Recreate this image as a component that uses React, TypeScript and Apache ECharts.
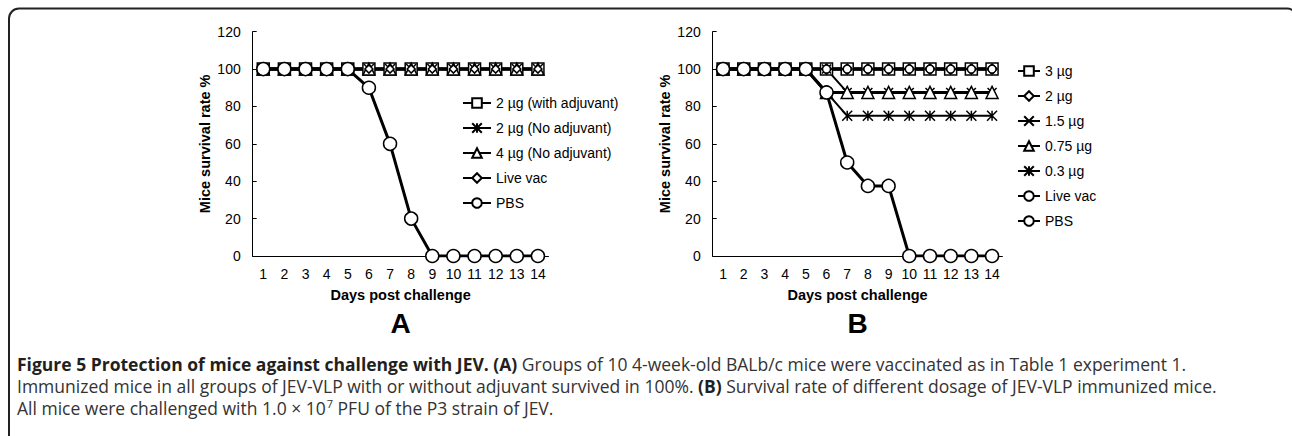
import React, { useEffect, useRef } from "react";
import * as echarts from "echarts";

const days = ["1", "2", "3", "4", "5", "6", "7", "8", "9", "10", "11", "12", "13", "14"];
const yTicks = [0, 20, 40, 60, 80, 100, 120];

// Panel A
const aNames = ["2 µg (with adjuvant)", "2 µg (No adjuvant)", "4 µg (No adjuvant)", "Live vac", "PBS"];
const aWithAdj = [100, 100, 100, 100, 100, 100, 100, 100, 100, 100, 100, 100, 100, 100];
const aNoAdj2 = [100, 100, 100, 100, 100, 100, 100, 100, 100, 100, 100, 100, 100, 100];
const aNoAdj4 = [100, 100, 100, 100, 100, 100, 100, 100, 100, 100, 100, 100, 100, 100];
const aLiveVac = [100, 100, 100, 100, 100, 100, 100, 100, 100, 100, 100, 100, 100, 100];
const aPBS = [100, 100, 100, 100, 100, 90, 60, 20, 0, 0, 0, 0, 0, 0];

// Panel B
const bNames = ["3 µg", "2 µg", "1.5 µg", "0.75 µg", "0.3 µg", "Live vac", "PBS"];
const b3 = [100, 100, 100, 100, 100, 100, 100, 100, 100, 100, 100, 100, 100, 100];
const b2 = [100, 100, 100, 100, 100, 100, 100, 100, 100, 100, 100, 100, 100, 100];
const b15 = [100, 100, 100, 100, 100, 100, 87.5, 87.5, 87.5, 87.5, 87.5, 87.5, 87.5, 87.5];
const b075 = [100, 100, 100, 100, 100, 87.5, 87.5, 87.5, 87.5, 87.5, 87.5, 87.5, 87.5, 87.5];
const b03 = [100, 100, 100, 100, 100, 87.5, 75, 75, 75, 75, 75, 75, 75, 75];
const bLiveVac = [100, 100, 100, 100, 100, 100, 100, 100, 100, 100, 100, 100, 100, 100];
const bPBS = [100, 100, 100, 100, 100, 87.5, 50, 37.5, 37.5, 0, 0, 0, 0, 0];

const captionLine1Bold = "Figure 5 Protection of mice against challenge with JEV. (A)";
const captionLine1 = " Groups of 10 4-week-old BALb/c mice were vaccinated as in Table 1 experiment 1.";
const captionLine2a = "Immunized mice in all groups of JEV-VLP with or without adjuvant survived in 100%. ";
const captionLine2Bold = "(B)";
const captionLine2b = " Survival rate of different dosage of JEV-VLP immunized mice.";
const captionLine3a = "All mice were challenged with 1.0 × 10";
const captionLine3Sup = "7";
const captionLine3b = " PFU of the P3 strain of JEV.";

const X_SYM = "path://M0,0L10,10M0,10L10,0";
const AST_SYM = "path://M0,0L10,10M0,10L10,0M5,0L5,10";

const FONT = "Arial, 'Liberation Sans', sans-serif";
const CAP_FONT = "'Open Sans', 'Noto Sans', sans-serif";
const CAP_SIZE = 17.5;

function mkSeries(
  name: string,
  data: number[],
  idx: number,
  symbol: string,
  size: number,
  lineWidth: number
) {
  return {
    type: "line",
    name,
    data,
    xAxisIndex: idx,
    yAxisIndex: idx,
    symbol,
    symbolSize: size,
    showAllSymbol: true,
    lineStyle: { color: "#000", width: lineWidth },
    itemStyle: { color: "#fff", borderColor: "#000", borderWidth: 1.5 },
    emphasis: { disabled: true },
  };
}

function axesFor(idx: number) {
  return {
    x: {
      type: "category",
      gridIndex: idx,
      data: days,
      boundaryGap: true,
      name: "Days post challenge",
      nameLocation: "middle",
      nameGap: 31,
      nameTextStyle: { fontFamily: FONT, fontWeight: "bold", fontSize: 14.5, color: "#000" },
      axisLine: { lineStyle: { color: "#000", width: 1 } },
      axisTick: { inside: true, length: 4, lineStyle: { color: "#000" } },
      axisLabel: { fontFamily: FONT, fontSize: 14, color: "#000", margin: 11, interval: 0 },
      splitLine: { show: false },
    },
    y: {
      type: "value",
      gridIndex: idx,
      min: 0,
      max: 120,
      interval: 20,
      name: "Mice survival rate %",
      nameLocation: "middle",
      nameGap: 40,
      nameTextStyle: { fontFamily: FONT, fontWeight: "bold", fontSize: 14.5, color: "#000" },
      axisLine: { show: true, lineStyle: { color: "#000", width: 1 } },
      axisTick: { show: true, inside: true, length: 4, lineStyle: { color: "#000" } },
      axisLabel: {
        fontFamily: FONT,
        fontSize: 14,
        color: "#000",
        margin: 12,
        formatter: (v: number) => (yTicks.indexOf(v) >= 0 ? String(v) : ""),
      },
      splitLine: { show: false },
    },
  };
}

export default function App() {
  const ref = useRef<HTMLDivElement>(null);
  useEffect(() => {
    if (!ref.current) return;
    const chart = echarts.init(ref.current, null, { renderer: "svg" });
    const axA = axesFor(0);
    const axB = axesFor(1);
    const strip = (n: string) => n.replace(/^[AB]:/, "");
    const legendBase = {
      orient: "vertical",
      itemWidth: 28,
      itemHeight: 12,
      itemGap: 11,
      selectedMode: false,
      formatter: strip,
      textStyle: { fontFamily: FONT, fontSize: 14, color: "#000", lineHeight: 14 },
      padding: 0,
    };
    const capRich = {
      b: { fontFamily: CAP_FONT, fontSize: CAP_SIZE, fontWeight: "bold", fill: "#231f20", lineHeight: 20 },
      r: { fontFamily: CAP_FONT, fontSize: CAP_SIZE, fill: "#333", lineHeight: 20 },
      s: { fontFamily: CAP_FONT, fontSize: 11, fill: "#333", lineHeight: 10, padding: [0, 0, 10, 1] },
    };
    chart.setOption({
      animation: false,
      backgroundColor: "#fff",
      grid: [
        { left: 252.7, top: 31.7, width: 295.8, height: 224.3, containLabel: false },
        { left: 712.7, top: 31.7, width: 289.7, height: 224.3, containLabel: false },
      ],
      xAxis: [axA.x, axB.x],
      yAxis: [axA.y, axB.y],
      legend: [
        {
          ...legendBase,
          left: 462,
          top: 96,
          data: aNames.map((n) => "A:" + n),
        },
        {
          ...legendBase,
          itemWidth: 22,
          left: 1017,
          top: 64,
          data: bNames.map((n) => "B:" + n),
        },
      ],
      series: [
        mkSeries("A:" + aNames[0], aWithAdj, 0, "rect", 12, 3),
        mkSeries("A:" + aNames[1], aNoAdj2, 0, AST_SYM, 10, 2),
        mkSeries("A:" + aNames[2], aNoAdj4, 0, "triangle", 12, 3),
        mkSeries("A:" + aNames[3], aLiveVac, 0, "diamond", 8, 3),
        mkSeries("A:" + aNames[4], aPBS, 0, "circle", 13, 3),
        mkSeries("B:" + bNames[0], b3, 1, "rect", 12, 3),
        mkSeries("B:" + bNames[1], b2, 1, "diamond", 10, 3),
        mkSeries("B:" + bNames[2], b15, 1, X_SYM, 9, 2),
        mkSeries("B:" + bNames[3], b075, 1, "triangle", 12, 3),
        mkSeries("B:" + bNames[4], b03, 1, AST_SYM, 10, 2),
        mkSeries("B:" + bNames[5], bLiveVac, 1, "circle", 8, 3),
        mkSeries("B:" + bNames[6], bPBS, 1, "circle", 13, 3),
      ],
      graphic: [
        {
          type: "rect",
          shape: { x: 9, y: 8.5, width: 1288, height: 520, r: 10 },
          style: { fill: "none", stroke: "#222", lineWidth: 2 },
          silent: true,
        },
        {
          type: "text",
          x: 400.6,
          y: 323,
          style: {
            text: "A",
            font: "bold 28px Arial, 'Liberation Sans', sans-serif",
            fill: "#000",
            align: "center",
            verticalAlign: "middle",
          },
        },
        {
          type: "text",
          x: 857.5,
          y: 323,
          style: {
            text: "B",
            font: "bold 28px Arial, 'Liberation Sans', sans-serif",
            fill: "#000",
            align: "center",
            verticalAlign: "middle",
          },
        },
        {
          type: "text",
          x: 17,
          y: 364,
          style: {
            text: "{b|" + captionLine1Bold + "}{r|" + captionLine1 + "}",
            verticalAlign: "middle",
            rich: capRich,
          },
        },
        {
          type: "text",
          x: 17,
          y: 386,
          style: {
            text: "{r|" + captionLine2a + "}{b|" + captionLine2Bold + "}{r|" + captionLine2b + "}",
            verticalAlign: "middle",
            rich: capRich,
          },
        },
        {
          type: "text",
          x: 17,
          y: 408,
          style: {
            text: "{r|" + captionLine3a + "}{s|" + captionLine3Sup + "}{r|" + captionLine3b + "}",
            verticalAlign: "middle",
            rich: capRich,
          },
        },
      ],
    });
    return () => chart.dispose();
  }, []);
  return (
    <div
      ref={ref}
      style={{ position: "absolute", left: 0, top: 0, width: 1292, height: 436 }}
    />
  );
}
